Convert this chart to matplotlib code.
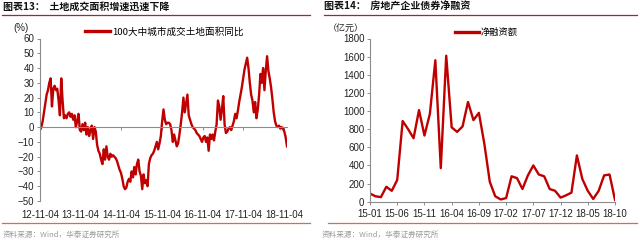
import matplotlib
matplotlib.use("Agg")
import matplotlib.pyplot as plt
import matplotlib.dates as mdates
from matplotlib.lines import Line2D
import pandas as pd
import numpy as np

plt.rcParams['font.family'] = ['Liberation Sans', 'Noto Sans CJK SC', 'DejaVu Sans']
CJK = ['Noto Sans CJK SC', 'DejaVu Sans']

# ---------------- data ----------------
left_title = "图表13：  土地成交面积增速迅速下降"
right_title = "图表14：  房地产企业债券净融资"
left_series_name = "100大中城市成交土地面积同比"
right_series_name = "净融资额"
source_text = "资料来源：Wind，华泰证券研究所"
left_unit = "(%)"
right_unit = "（亿元）"

land_start = "2012-11-04"
land_yoy = [
    -2, 0, 4, 10, 16, 22, 25, 30, 33, 14, 26, 28, 25, 26, 18, 8, 33, 18, 6, 8,
    6, 9, 10, 7, 9, 5, 8, 0, 4, 9, -2, -3, 2, -2, 3, -5, 0, -6, -2, 1,
    -8, 0, -3, -12, -16, -18, -22, -25, -15, -22, -13, -20, -22, -18, -20, -19, -20, -21, -23, -26,
    -29, -31, -35, -40, -42, -41, -37, -35, -37, -30, -34, -27, -32, -25, -22, -30, -33, -42, -32, -38,
    -36, -40, -25, -21, -19, -18, -16, -13, -10, -15, -11, -6, 4, 12, 5, 2, 3, 3, 2, -2,
    -10, -5, -9, -13, -11, -5, 2, 10, 20, 10, 16, 22, 8, 5, 2, 0, -1, -2, -4, -5,
    -6, -8, -10, -7, -6, -10, -7, -16, -5, -8, -5, -9, -3, 2, 18, 14, 5, 12, 21, 2,
    -4, -3, -1, 0, -2, 1, 4, 9, 6, 11, 17, 22, 27, 33, 39, 43, 47, 40, 30, 22,
    18, 10, 17, 6, 12, 22, 36, 30, 40, 25, 38, 48, 38, 33, 27, 19, 10, 4, 1, 0,
    1, -1, 0, -1, -3, -7, -13,
]
land_ticks = ["2012-11-04", "2013-11-04", "2014-11-04", "2015-11-04",
              "2016-11-04", "2017-11-04", "2018-11-04"]

bond_months = pd.date_range("2015-01-01", "2018-10-01", freq="MS").strftime("%y-%m").tolist()
bond_net = [
    90, 60, 50, 165, 120, 240, 890, 800, 700, 1010, 730, 970,
    1560, 370, 1610, 820, 770, 830, 1100, 900, 980, 640, 220, 60,
    25, 40, 280, 260, 140, 290, 400, 300, 280, 140, 120, 45,
    70, 100, 510, 250, 120, 30, 120, 290, 300, 20,
]

# ---------------- styles ----------------
LINE_RED = "#C00000"
HEAD_RED = "#A8232B"
FOOT_LINE = "#C8744E"
AXIS_GRAY = "#8C8C8C"
TXT = "#222222"

fig = plt.figure(figsize=(6.4, 2.42), dpi=100)

# headers / footers
fig.text(3 / 640, 1 - 7 / 242, left_title, family=CJK, fontsize=7.2, fontweight='bold',
         va='center', ha='left', color='#111111')
fig.text(324 / 640, 1 - 7 / 242, right_title, family=CJK, fontsize=7.2, fontweight='bold',
         va='center', ha='left', color='#111111')
fig.add_artist(Line2D([2 / 640, 310 / 640], [1 - 15 / 242] * 2, color=HEAD_RED, lw=0.9))
fig.add_artist(Line2D([324 / 640, 637 / 640], [1 - 15 / 242] * 2, color=HEAD_RED, lw=0.9))
fig.add_artist(Line2D([2 / 640, 310 / 640], [1 - 223 / 242] * 2, color=FOOT_LINE, lw=0.9))
fig.add_artist(Line2D([328 / 640, 637 / 640], [1 - 223 / 242] * 2, color=FOOT_LINE, lw=0.9))
fig.text(3 / 640, 1 - 235 / 242, source_text, family=CJK, fontsize=5.5, color='#9A9A9A',
         va='center', ha='left')
fig.text(322 / 640, 1 - 235 / 242, source_text, family=CJK, fontsize=5.5, color='#9A9A9A',
         va='center', ha='left')

# ---------------- left chart ----------------
ax1 = fig.add_axes([40 / 640, 1 - 201 / 242, 247 / 640, (201 - 38.5) / 242])
dates = pd.date_range(land_start, periods=len(land_yoy), freq="286h")
ax1.plot(dates, land_yoy, color=LINE_RED, lw=1.7, solid_joinstyle='round')
ax1.set_ylim(-50, 60)
ax1.set_yticks(np.arange(-50, 61, 10))
ax1.set_xlim(dates[0], dates[-1])
ax1.set_xticks(pd.to_datetime(land_ticks))
ax1.xaxis.set_major_formatter(mdates.DateFormatter("%y-%m-%d"))
for s in ['top', 'right']:
    ax1.spines[s].set_visible(False)
ax1.spines['bottom'].set_position(('data', 0))
ax1.spines['bottom'].set_color(AXIS_GRAY)
ax1.spines['left'].set_color(AXIS_GRAY)
ax1.spines['bottom'].set_linewidth(0.8)
ax1.spines['left'].set_linewidth(0.8)
ax1.tick_params(axis='y', direction='out', length=2.5, width=0.7, color=AXIS_GRAY,
                labelsize=7, labelcolor=TXT, pad=1.5)
ax1.tick_params(axis='x', direction='out', length=2.5, width=0.7, color=AXIS_GRAY,
                labelsize=7, labelcolor=TXT, pad=57)
ax1.text(-0.075, 1.035, left_unit, transform=ax1.transAxes, fontsize=7, color=TXT,
         ha='center', va='bottom')
ax1.legend([Line2D([0], [0], color=LINE_RED, lw=2.4)], [left_series_name],
           loc='center left', bbox_to_anchor=(0.182, 1.04), frameon=False,
           prop={'family': CJK, 'size': 6.9}, handlelength=2.6, handletextpad=0.2,
           borderaxespad=0, borderpad=0)

# ---------------- right chart ----------------
ax2 = fig.add_axes([370 / 640, 1 - 201.7 / 242, 245 / 640, (201.7 - 38.5) / 242])
xi = np.arange(len(bond_net))
ax2.plot(xi, bond_net, color=LINE_RED, lw=1.7, solid_joinstyle='round')
ax2.set_xlim(0, len(bond_net) - 1)
ax2.set_ylim(0, 1800)
ax2.set_yticks(np.arange(0, 1801, 200))
ax2.set_xticks(xi[::5])
ax2.set_xticklabels([bond_months[i] for i in xi[::5]])
for s in ['top', 'right']:
    ax2.spines[s].set_visible(False)
for s in ['bottom', 'left']:
    ax2.spines[s].set_color(AXIS_GRAY)
    ax2.spines[s].set_linewidth(0.8)
ax2.tick_params(axis='both', direction='out', length=2.5, width=0.7, color=AXIS_GRAY,
                labelsize=7, labelcolor=TXT, pad=1.5)
ax2.tick_params(axis='x', pad=2.5)
ax2.text(-0.1, 1.035, right_unit, transform=ax2.transAxes, family=CJK, fontsize=6.5,
         color=TXT, ha='center', va='bottom')
ax2.legend([Line2D([0], [0], color=LINE_RED, lw=2.4)], [right_series_name],
           loc='center left', bbox_to_anchor=(0.347, 1.035), frameon=False,
           prop={'family': CJK, 'size': 6.7}, handlelength=2.6, handletextpad=0.2,
           borderaxespad=0, borderpad=0)

fig.savefig("out.png", dpi=100)
